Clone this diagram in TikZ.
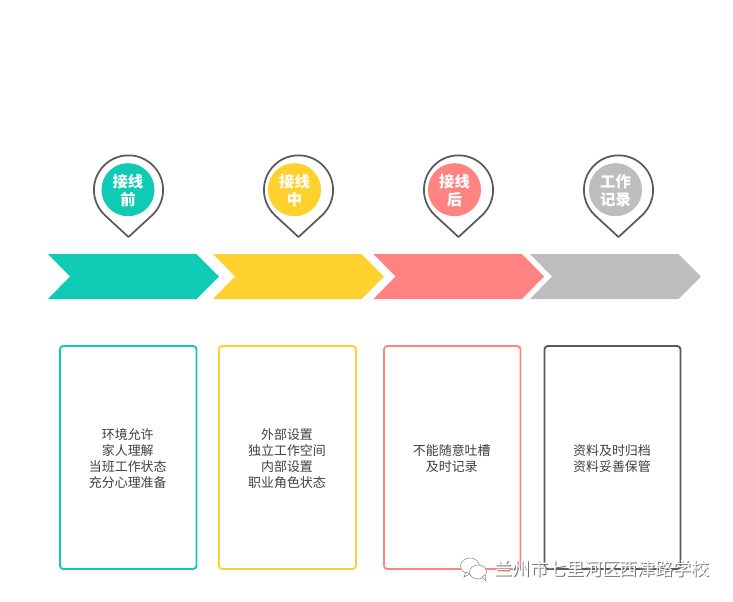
\documentclass[tikz,border=0pt]{standalone}
\usepackage{fontspec}
\setmainfont{Noto Sans CJK SC}
\definecolor{tealc}{HTML}{0FCBB5}
\definecolor{yellowc}{HTML}{FFD12F}
\definecolor{pinkc}{HTML}{FF8380}
\definecolor{grayc}{HTML}{BDBDBD}
\definecolor{darkc}{HTML}{595959}
\begin{document}
\begin{tikzpicture}[
  x=0.75pt, y=-0.75pt,
  pin/.style={draw=darkc, line width=1.3pt, line join=round, fill=white},
  badge/.style={circle, minimum size=39.8pt, inner sep=0pt},
  badgetext/.style={inner sep=0pt, align=center, text=white,
    font=\fontsize{11.5pt}{13.5pt}\selectfont\bfseries},
  card/.style={draw, line width=1.4pt, rounded corners=2.5pt, fill=white},
  cardtext/.style={align=center, text=black!75, font=\fontsize{9.7pt}{12pt}\selectfont},
]
\useasboundingbox (0,0) rectangle (733,601);

% --- Chevrons: start / shoulder / tip / notch ---
\foreach \name/\col/\xa/\xb/\xc/\xd in {
    arrA/tealc/48/196.5/219/70,
    arrB/yellowc/213/361.5/384/235,
    arrC/pinkc/373.5/522/544/395.5,
    arrD/grayc/530/678.5/701/552} {
  \fill[\col] (\xa,254) -- (\xb,254) -- (\xc,276.5) -- (\xb,299) -- (\xa,299) -- (\xd,276.5) -- cycle;
}

% --- Pins with a round badge inside ---
\foreach \name/\col/\px/\bx/\lbl in {
    pinA/tealc/128.5/128/{接线\\前},
    pinB/yellowc/298.5/294.5/{接线\\中},
    pinC/pinkc/458.5/454.5/{接线\\后},
    pinD/grayc/618.5/615.5/{工作\\记录}} {
  \begin{scope}[shift={(\px,190)}]
    \draw[pin] (0,47) -- (23.1,25.7) arc[start angle=48.1, end angle=-228.1, radius=34.6] -- cycle;
  \end{scope}
  \node[badge, fill=\col] (\name) at (\bx,189.7) {};
  \node[badgetext] (\name text) at (\bx,190.5) {\lbl};
}

% --- Cards below the chevrons ---
\foreach \name/\col/\xa/\xb/\lbl in {
    cardA/tealc/60/196.5/{环境允许\\家人理解\\当班工作状态\\充分心理准备},
    cardB/yellowc/219/356/{外部设置\\独立工作空间\\内部设置\\职业角色状态},
    cardC/pinkc/384/520.5/{不能随意吐槽\\及时记录},
    cardD/darkc/544.5/680.5/{资料及时归档\\资料妥善保管}} {
  \draw[card, draw=\col] (\xa,346) rectangle (\xb,569);
  \node[cardtext] (\name) at ({(\xa+\xb)/2-0.5},458.5) {\lbl};
}

% --- Watermark ---
\fill[white, draw=black!45, line width=0.4pt] (470,566) ellipse[x radius=9.5, y radius=8];
\fill[white, draw=black!45, line width=0.4pt] (466,572) -- (464,577) -- (470,574) -- cycle;
\fill[white, draw=black!45, line width=0.4pt] (478,572) ellipse[x radius=8.5, y radius=7];
\fill[white, draw=black!45, line width=0.4pt] (482,577) -- (486,581) -- (485,575) -- cycle;
\node[text=black!55, inner sep=0pt, font=\fontsize{13.4pt}{16pt}\selectfont] (markshadow) at (603,570) {兰州市七里河区西津路学校};
\node[text=white, inner sep=0pt, font=\fontsize{13.4pt}{16pt}\selectfont] (mark) at (602,569) {兰州市七里河区西津路学校};
\end{tikzpicture}
\end{document}
